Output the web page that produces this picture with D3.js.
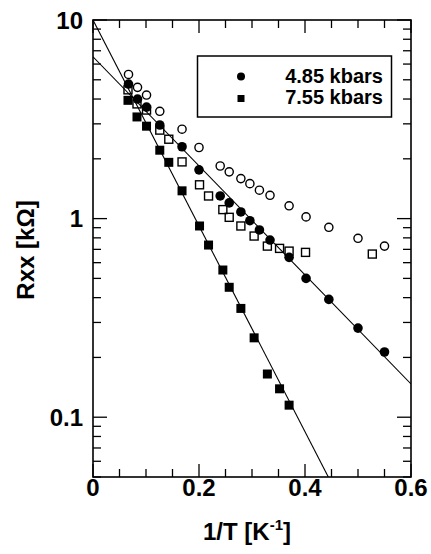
<!DOCTYPE html>
<html>
<head>
<meta charset="utf-8">
<script src="https://cdn.jsdelivr.net/npm/d3@7"></script>
<style>
  html, body { margin: 0; padding: 0; background: #fff; }
  svg { display: block; }
  text { font-family: "Liberation Sans", Arial, Helvetica, sans-serif; font-weight: bold; fill: #000; }
</style>
</head>
<body>
<svg id="chart" width="431" height="554"></svg>
<script>
// Inverse temperature, 1/T [K^-1]
const invTCircles = [0.067, 0.084, 0.101, 0.126, 0.168, 0.200, 0.240, 0.257, 0.279, 0.296, 0.314, 0.334, 0.370, 0.402, 0.445, 0.500, 0.550];
const invTSquares = [0.066, 0.083, 0.101, 0.126, 0.143, 0.168, 0.201, 0.218, 0.245, 0.257, 0.279, 0.304, 0.329, 0.352, 0.370, 0.401, 0.527];

// 4.85 kbars: filled (fitted) and open circles, Rxx [kOhm]
const rFilled485 = [4.76, 4.00, 3.64, 2.96, 2.30, 1.76, 1.30, 1.20, 1.08, 0.976, 0.877, 0.780, 0.638, 0.500, 0.392, 0.281, 0.213];
const rOpen485   = [5.32, 4.58, 4.19, 3.47, 2.82, 2.28, 1.84, 1.72, 1.59, 1.50, 1.39, 1.31, 1.16, 1.02, 0.904, 0.796, 0.727];

// 7.55 kbars: filled squares (first 15 temperatures) and open squares
const rFilled755 = [3.94, 3.25, 2.92, 2.21, 1.92, 1.38, 0.918, 0.736, 0.551, 0.451, 0.353, 0.251, 0.165, 0.139, 0.115];
const rOpen755   = [4.45, 3.78, 3.52, 2.79, 2.51, 1.93, 1.48, 1.30, 1.11, 1.015, 0.918, 0.817, 0.727, 0.708, 0.686, 0.676, 0.663];

// Activated fits: [1/T, Rxx] end points
const fit485 = [[0, 6.53], [0.6, 0.147]];
const fit755 = [[0, 10], [0.444, 0.05]];

// Axis ticks
const xTickLabels = [0, 0.2, 0.4, 0.6];
const yTickLabels = [0.1, 1, 10];
const legendLabels = ["4.85 kbars", "7.55 kbars"];

const svg = d3.select("#chart");
const L = 93, R = 411, T = 20, B = 477;

const x = d3.scaleLinear().domain([0, 0.6]).range([L, R]);
const y = d3.scaleLog().domain([0.05, 10]).range([B, T]);

const defs = svg.append("defs");
defs.append("clipPath").attr("id", "plotClip")
  .append("rect").attr("x", L).attr("y", T).attr("width", R - L).attr("height", B - T);

// Ticks (inward on all four sides)
const ticks = svg.append("g").attr("stroke", "#000").attr("stroke-width", 1.3);
const xMinor = d3.range(0, 0.6001, 0.05).map(v => +v.toFixed(2));
xMinor.forEach(v => {
  const major = xTickLabels.some(t => Math.abs(t - v) < 1e-6);
  const len = major ? 13 : 8;
  ticks.append("line").attr("x1", x(v)).attr("x2", x(v)).attr("y1", B).attr("y2", B - len);
  ticks.append("line").attr("x1", x(v)).attr("x2", x(v)).attr("y1", T).attr("y2", T + len);
});
const yTicks = [];
[0.01, 0.1, 1].forEach(d => d3.range(1, 10).forEach(m => {
  const v = +(m * d).toPrecision(3);
  if (v >= 0.05 && v <= 10) yTicks.push(v);
}));
yTicks.push(10);
yTicks.forEach(v => {
  const major = yTickLabels.includes(v);
  const len = major ? 14 : 8;
  ticks.append("line").attr("x1", L).attr("x2", L + len).attr("y1", y(v)).attr("y2", y(v));
  ticks.append("line").attr("x1", R).attr("x2", R - len).attr("y1", y(v)).attr("y2", y(v));
});

// Frame
svg.append("rect").attr("x", L).attr("y", T).attr("width", R - L).attr("height", B - T)
  .attr("fill", "none").attr("stroke", "#000").attr("stroke-width", 1.6);

// Tick labels
svg.append("g").selectAll("text").data(xTickLabels).join("text")
  .attr("x", d => x(d)).attr("y", B + 19).attr("text-anchor", "middle")
  .attr("font-size", 24).text(d => d === 0 ? "0" : d.toFixed(1));
svg.append("g").selectAll("text").data(yTickLabels).join("text")
  .attr("x", L - 10).attr("y", d => y(d) + 8.5).attr("text-anchor", "end")
  .attr("font-size", 24).text(d => String(d));

// Axis titles
const xt = svg.append("text").attr("x", 247).attr("y", 540).attr("text-anchor", "middle").attr("font-size", 24);
xt.append("tspan").text("1/T [K");
xt.append("tspan").attr("font-size", 15).attr("dy", -10).text("-1");
xt.append("tspan").attr("dy", 10).text("]");

svg.append("text").attr("transform", "translate(34,250) rotate(-90)")
  .attr("text-anchor", "middle").attr("font-size", 24).text("Rxx [kΩ]");

// Fit lines
const line = d3.line().x(d => x(d[0])).y(d => y(d[1]));
const fits = svg.append("g").attr("clip-path", "url(#plotClip)")
  .attr("fill", "none").attr("stroke", "#000").attr("stroke-width", 1.1);
fits.append("path").attr("d", line(fit485));
fits.append("path").attr("d", line(fit755));

// Markers
const pts = svg.append("g");
const sq = 9;
pts.selectAll(".os").data(rOpen755).join("rect")
  .attr("x", (d, i) => x(invTSquares[i]) - sq / 2 + 0.5).attr("y", d => y(d) - sq / 2 + 0.5)
  .attr("width", sq - 1).attr("height", sq - 1)
  .attr("fill", "none").attr("stroke", "#000").attr("stroke-width", 1.4);
pts.selectAll(".oc").data(rOpen485).join("circle")
  .attr("cx", (d, i) => x(invTCircles[i])).attr("cy", d => y(d)).attr("r", 4.1)
  .attr("fill", "none").attr("stroke", "#000").attr("stroke-width", 1.4);
pts.selectAll(".fs").data(rFilled755).join("rect")
  .attr("x", (d, i) => x(invTSquares[i]) - sq / 2).attr("y", d => y(d) - sq / 2)
  .attr("width", sq).attr("height", sq).attr("fill", "#000");
pts.selectAll(".fc").data(rFilled485).join("circle")
  .attr("cx", (d, i) => x(invTCircles[i])).attr("cy", d => y(d)).attr("r", 4.8)
  .attr("fill", "#000");

// Legend
const lg = svg.append("g");
lg.append("rect").attr("x", 197.5).attr("y", 56).attr("width", 194).attr("height", 61)
  .attr("fill", "#fff").attr("stroke", "#000").attr("stroke-width", 1.5);
lg.append("circle").attr("cx", 241).attr("cy", 76.5).attr("r", 4).attr("fill", "#000");
lg.append("rect").attr("x", 237.5).attr("y", 95).attr("width", 7).attr("height", 7).attr("fill", "#000");
lg.selectAll(".lt").data(legendLabels).join("text")
  .attr("x", 383).attr("y", (d, i) => 82.5 + i * 21.5).attr("text-anchor", "end")
  .attr("font-size", 20).text(d => d);
</script>
</body>
</html>
